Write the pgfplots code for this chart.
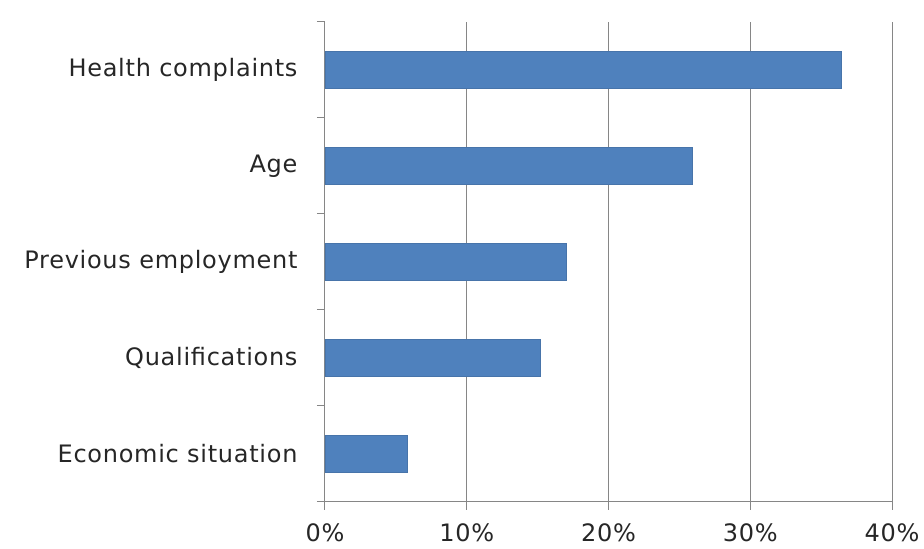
\documentclass[border=0pt]{standalone}
\usepackage{pgfplots}
\pgfplotsset{compat=1.18}
\usepackage{fontspec}
\setmainfont{DejaVu Sans}
\newfontfamily\lblfont[LetterSpace=3]{DejaVu Sans}
\definecolor{barblue}{HTML}{4F81BD}
\definecolor{gridgray}{HTML}{868686}
\begin{document}
\begin{tikzpicture}[x=1pt,y=1pt]
\path (0,0) rectangle (924,549);
\begin{axis}[
  at={(325pt,47pt)}, anchor=south west,
  scale only axis, width=567pt, height=480pt,
  xbar, bar width=37pt,
  xmin=0, xmax=40, ymin=-0.5, ymax=4.5,
  axis x line*=bottom, axis y line*=left,
  axis line style={gridgray, line width=1pt, -},
  xtick={0,10,20,30,40},
  xticklabel={\pgfmathprintnumber{\tick}\%},
  ytick={0,1,2,3,4},
  yticklabels={Economic situation, Qualifications, Previous employment, Age, Health complaints},
  minor ytick={-0.5,0.5,1.5,2.5,3.5,4.5},
  tick align=outside,
  major tick length=8pt, minor tick length=8pt,
  major y tick style={draw=none},
  minor y tick style={draw=gridgray, line width=1pt},
  major x tick style={draw=gridgray, line width=1pt},
  xmajorgrids, major grid style={gridgray, line width=1pt},
  ticklabel style={font=\lblfont\fontsize{24}{28}\selectfont, text=black!85},
  yticklabel style={xshift=-16pt},
  xticklabel style={yshift=-10pt},
  /pgf/number format/assume math mode=true,
]
\addplot[fill=barblue, draw=barblue!90!black, line width=0.4pt] coordinates {
  (5.8,0) (15.2,1) (17.0,2) (25.9,3) (36.4,4)
};
\end{axis}
\end{tikzpicture}
\end{document}
